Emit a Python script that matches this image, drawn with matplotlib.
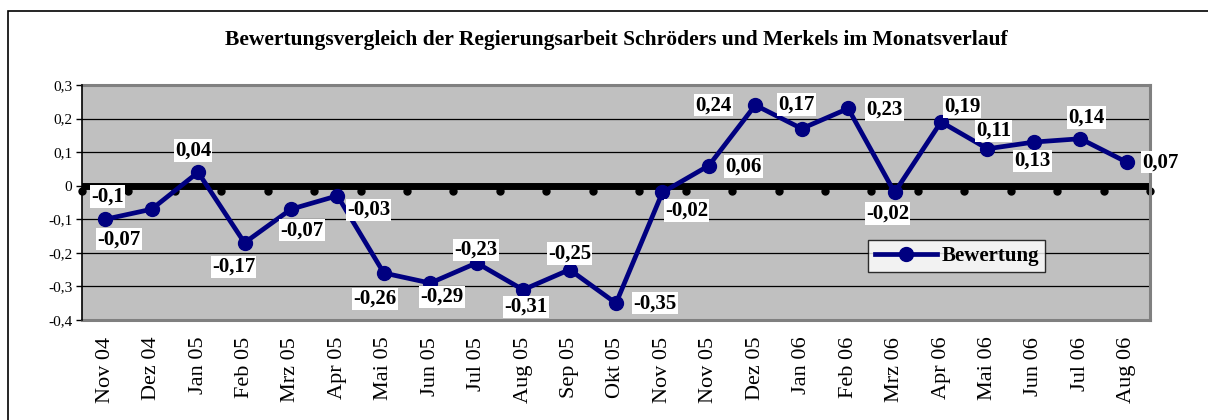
import numpy as np
import matplotlib

matplotlib.use("Agg")
import matplotlib.pyplot as plt
import matplotlib.transforms as mtransforms
from matplotlib.patches import Rectangle

months = [
    "Nov 04", "Dez 04", "Jan 05", "Feb 05", "Mrz 05", "Apr 05", "Mai 05",
    "Jun 05", "Jul 05", "Aug 05", "Sep 05", "Okt 05", "Nov 05", "Nov 05",
    "Dez 05", "Jan 06", "Feb 06", "Mrz 06", "Apr 06", "Mai 06", "Jun 06",
    "Jul 06", "Aug 06",
]
bewertung = [
    -0.10, -0.07, 0.04, -0.17, -0.07, -0.03, -0.26, -0.29, -0.23, -0.31,
    -0.25, -0.35, -0.02, 0.06, 0.24, 0.17, 0.23, -0.02, 0.19, 0.11, 0.13,
    0.14, 0.07,
]
y_ticks = [-0.4, -0.3, -0.2, -0.1, 0.0, 0.1, 0.2, 0.3]

# label offsets from each point, in pixels (right, down)
label_offsets = [
    (2, -23), (-33, 30), (-5, -22), (-11, 24), (11, 21), (31, 14), (-9, 26),
    (12, 14), (-1, -13), (3, 17), (0, -16), (39, 0), (24, 18), (35, 1),
    (-42, 0), (-5, -24), (36, 1), (-7, 21), (21, -15), (6, -18), (-1, 19),
    (6, -21), (34, 0),
]

SERIF = ["Liberation Serif", "DejaVu Serif"]
NAVY = "#000080"
px = 72 / 100  # pixels -> points at dpi 100

fig = plt.figure(figsize=(12.08, 4.2), dpi=100)
fig.patches.append(
    Rectangle((8 / 1208, -0.1), 1.2, 1 - 11 / 420 + 0.1, transform=fig.transFigure,
              fill=False, edgecolor="black", linewidth=1.2)
)
ax = fig.add_axes([82 / 1208, 1 - 320 / 420, 1068 / 1208, 235 / 420])
ax.set_facecolor("#C0C0C0")

x = np.arange(len(months))
ax.set_xlim(-0.5, len(months) - 0.5)
ax.set_ylim(-0.4, 0.3)

for v in y_ticks:
    if -0.4 < v < 0.3 and v != 0:
        ax.axhline(v, color="black", linewidth=0.9, zorder=1)
ax.axhline(0, color="black", linewidth=5, zorder=2)
dots = mtransforms.offset_copy(ax.transData, fig=fig, x=0, y=-5, units="dots")
ax.plot(np.arange(len(months) + 1) - 0.5, np.zeros(len(months) + 1), ls="none",
        marker="o", markersize=5, color="black", transform=dots, zorder=2,
        clip_on=False)

ax.plot(x, bewertung, color=NAVY, linewidth=3.4, marker="o", markersize=10,
        label="Bewertung", zorder=3, clip_on=False)

for xi, v, (dx, dy) in zip(x, bewertung, label_offsets):
    ax.annotate(f"{v:g}".replace(".", ","), (xi, v), xytext=(dx * px, -dy * px),
                textcoords="offset points", ha="center", va="center",
                fontsize=15, fontweight="bold", family=SERIF, zorder=4,
                annotation_clip=False,
                bbox=dict(boxstyle="square,pad=0.06", facecolor="white",
                          edgecolor="none"))

ax.set_xticks(x)
ax.set_xticklabels(months, rotation=90, family=SERIF, fontsize=16)
ax.tick_params(axis="x", length=0, pad=12)
ax.set_yticks(y_ticks)
ax.set_yticklabels([f"{v:g}".replace(".", ",") for v in y_ticks],
                   family=SERIF, fontsize=11)
ax.tick_params(axis="y", direction="out", length=4, width=1, pad=3)

for side in ("top", "right", "bottom"):
    ax.spines[side].set_color("#808080")
    ax.spines[side].set_linewidth(2.2)
ax.spines["left"].set_color("black")
ax.spines["left"].set_linewidth(1.2)
ax.spines["left"].set_zorder(5)

leg = ax.legend(loc="center", bbox_to_anchor=(0.819, 0.272), frameon=True,
                fancybox=False, handlelength=3, borderpad=0.3,
                handletextpad=0.2, borderaxespad=0,
                prop={"family": SERIF, "weight": "bold", "size": 15})
leg.get_frame().set_edgecolor("black")
leg.get_frame().set_linewidth(1)

fig.text(616 / 1208, 1 - 40 / 420,
         "Bewertungsvergleich der Regierungsarbeit Schröders und Merkels im Monatsverlauf",
         ha="center", va="center", fontsize=15.5, fontweight="bold", family=SERIF)

fig.savefig("out.png", dpi=100)
